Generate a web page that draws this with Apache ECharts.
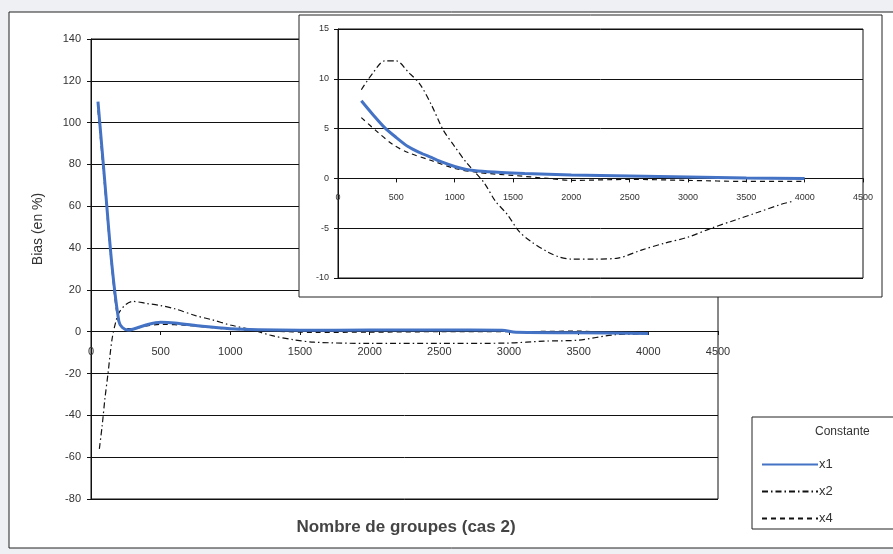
<!DOCTYPE html>
<html>
<head>
<meta charset="utf-8">
<script src="https://cdn.jsdelivr.net/npm/echarts@6/dist/echarts.min.js"></script>
<style>
html,body{margin:0;padding:0;background:#eef0f3;}
#c{width:893px;height:554px;}
</style>
</head>
<body>
<div id="c"></div>
<script>
// ---- data ----
var xTicksMain = [0, 500, 1000, 1500, 2000, 2500, 3000, 3500, 4000, 4500];
var yTicksMain = [-80, -60, -40, -20, 0, 20, 40, 60, 80, 100, 120, 140];
var yTicksInset = [-10, -5, 0, 5, 10, 15];
var seriesNames = ['x1', 'x2', 'x4'];

var mainX1 = [[50,110],[100,71],[150,32],[200,5],[225,2],[265,0.8],[300,1.2],[400,3.3],[500,4.5],[600,4.2],[800,2.6],[1000,1.4],[1200,0.9],[1500,0.7],[2000,0.8],[2500,0.8],[2950,0.7],[3050,-0.3],[3500,-0.5],[4000,-0.8]];
var mainX2 = [[60,-56],[80,-45],[100,-32],[122,-20],[150,-4],[175,4],[200,9],[250,13],[300,14.5],[400,13.5],[500,12.5],[600,11],[750,7.7],[870,5.7],[1000,3.2],[1150,1],[1300,-1.9],[1450,-3.8],[1600,-5],[2000,-5.6],[2500,-5.6],[3000,-5.4],[3250,-4.5],[3500,-4],[3750,-1.5],[4000,-1]];
var mainX4 = [[50,106],[100,68],[150,30],[200,4],[250,1.5],[300,1.5],[400,2.8],[500,3.5],[700,3],[1000,1.2],[1300,0.3],[1600,-0.3],[2000,-0.2],[2500,0],[3000,0],[3500,0.3],[3750,-0.5],[4000,-0.5]];

var insetX1 = [[200,7.8],[300,6.4],[400,5.1],[500,4.1],[600,3.2],[700,2.6],[800,2.1],[900,1.6],[1000,1.2],[1100,0.9],[1200,0.75],[1400,0.6],[1600,0.5],[2000,0.35],[2500,0.25],[3000,0.15],[3500,0.05],[4000,0]];
var insetX2 = [[200,8.9],[300,10.6],[400,11.8],[500,11.8],[600,10.7],[700,9.5],[800,7.4],[900,4.9],[1000,3.2],[1100,1.6],[1250,-0.4],[1350,-2.3],[1450,-3.6],[1550,-5.3],[1650,-6.3],[1800,-7.4],[1900,-7.9],[2000,-8.1],[2200,-8.1],[2400,-8],[2600,-7.2],[2800,-6.5],[3000,-5.9],[3200,-5],[3400,-4.2],[3600,-3.4],[3800,-2.6],[3900,-2.3]];
var insetX4 = [[200,6.1],[330,4.75],[470,3.4],[600,2.6],[800,1.8],[1000,1.0],[1200,0.6],[1500,0.3],[1800,0],[2000,-0.2],[2500,-0.1],[3000,-0.2],[3500,-0.3],[4000,-0.3]];

// ---- styles ----
var FONT = '"Liberation Sans", Arial, sans-serif';
var BLUE = '#4472C4';
var styles = {
  x1: {color: BLUE, width: 3, type: 'solid'},
  x2: {color: '#111', width: 1.2, type: [6, 3, 1.5, 3]},
  x4: {color: '#111', width: 1.2, type: [5, 4]}
};

function mkSeries(name, data, gi, z) {
  var s = styles[name];
  return {
    name: name, type: 'line', data: data, xAxisIndex: gi, yAxisIndex: gi,
    symbol: 'none', smooth: 0.3, z: z, silent: true, animation: false,
    itemStyle: {color: s.color},
    lineStyle: {color: s.color, width: s.width, type: s.type}
  };
}

var chart = echarts.init(document.getElementById('c'), null, {renderer: 'canvas'});
var axisCommon = function (min, max, interval, fs, margin, z) {
  return {
    type: 'value', min: min, max: max, interval: interval, z: z,
    axisLine: {show: true, onZero: false, lineStyle: {color: '#111', width: 1}},
    axisTick: {show: true, length: 4, lineStyle: {color: '#111'}},
    axisLabel: {color: '#333', fontSize: fs, fontFamily: FONT, margin: margin,
      formatter: function (v) { return String(v); }},
    splitLine: {show: false}
  };
};

// main grid: top 39, height 460 -> zero at 331 (168 px above bottom)
var xMain = axisCommon(xTicksMain[0], xTicksMain[xTicksMain.length - 1], 500, 11, 15, 1);
xMain.gridIndex = 0; xMain.position = 'bottom'; xMain.offset = -168;
var yMain = axisCommon(yTicksMain[0], yTicksMain[yTicksMain.length - 1], 20, 11, 10, 1);
yMain.gridIndex = 0;
yMain.splitLine = {show: true, lineStyle: {color: '#111', width: 1}};
// inset grid: top 29, height 249 -> zero at 178.6 (99.6 px above bottom)
var xIn = axisCommon(xTicksMain[0], xTicksMain[xTicksMain.length - 1], 500, 9, 15, 20);
xIn.gridIndex = 1; xIn.position = 'bottom'; xIn.offset = -99.6;
var yIn = axisCommon(yTicksInset[0], yTicksInset[yTicksInset.length - 1], 5, 9, 9, 20);
yIn.gridIndex = 1;
yIn.splitLine = {show: true, lineStyle: {color: '#111', width: 1}};

var option = {
  backgroundColor: '#eef0f3',
  animation: false,
  grid: [
    {left: 91, top: 39, width: 627, height: 460, show: true, borderColor: '#111', borderWidth: 1, z: 1},
    {left: 338, top: 29, width: 525, height: 249, show: true, borderColor: '#111', borderWidth: 1, z: 20}
  ],
  xAxis: [xMain, xIn],
  yAxis: [yMain, yIn],
  legend: {
    data: seriesNames, orient: 'vertical', left: 756, top: 453,
    itemWidth: 56, itemHeight: 14, itemGap: 14, selectedMode: false,
    itemStyle: {opacity: 0},
    textStyle: {fontSize: 13, color: '#333', fontFamily: FONT, padding: [0, 0, 0, -4]},
    z: 40
  },
  graphic: [
    {type: 'rect', z: -100, shape: {x: 9, y: 12, width: 900, height: 536}, style: {fill: '#fff', stroke: '#222', lineWidth: 1}},
    {type: 'rect', z: 10, shape: {x: 299, y: 15, width: 583, height: 282}, style: {fill: '#fff', stroke: '#222', lineWidth: 1}},
    {type: 'rect', z: 30, shape: {x: 752, y: 417, width: 160, height: 112}, style: {fill: '#fff', stroke: '#222', lineWidth: 1}},
    {type: 'text', z: 35, x: 815, y: 432, style: {text: 'Constante', fontSize: 12, fill: '#333', fontFamily: FONT, textVerticalAlign: 'middle'}},
    {type: 'text', z: 35, x: 38, y: 229, rotation: Math.PI / 2, style: {text: 'Bias (en %)', fontSize: 14, fill: '#333', fontFamily: FONT, textAlign: 'center', textVerticalAlign: 'middle'}},
    {type: 'text', z: 35, x: 406, y: 527, style: {text: 'Nombre de groupes (cas 2)', fontSize: 17, fontWeight: 'bold', fill: '#444', fontFamily: FONT, textAlign: 'center', textVerticalAlign: 'middle'}}
  ],
  series: [
    mkSeries('x2', mainX2, 0, 3),
    mkSeries('x4', mainX4, 0, 3),
    mkSeries('x1', mainX1, 0, 4),
    mkSeries('x2', insetX2, 1, 30),
    mkSeries('x4', insetX4, 1, 30),
    mkSeries('x1', insetX1, 1, 31)
  ]
};
chart.setOption(option);
</script>
</body>
</html>
